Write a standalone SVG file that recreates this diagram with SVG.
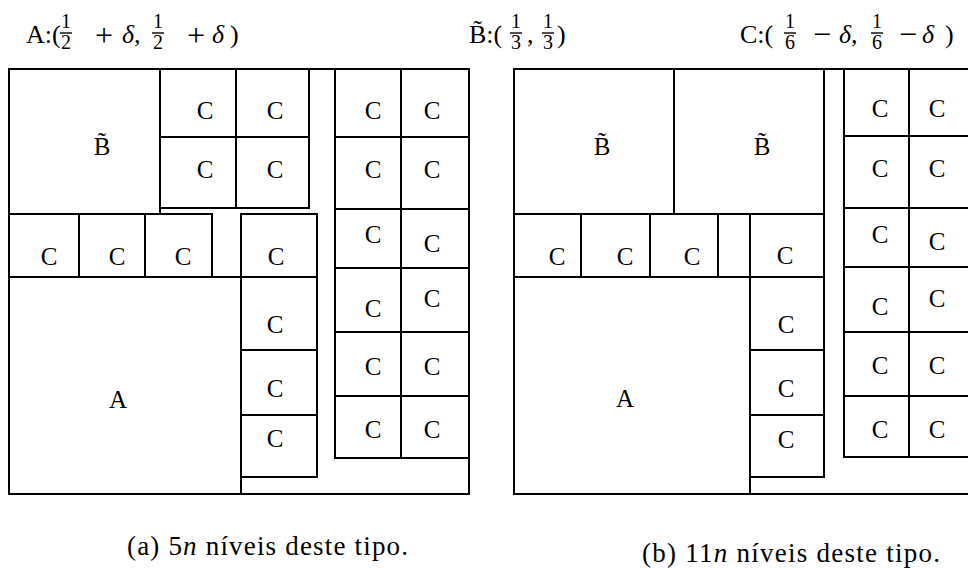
<svg xmlns="http://www.w3.org/2000/svg" width="968" height="568" viewBox="0 0 968 568">
<style>
.b{fill:none;stroke:#000;stroke-width:2}
.l{font-family:"Liberation Serif","DejaVu Serif",serif;font-size:25px;text-anchor:middle;fill:#000}
.t{font-family:"Liberation Serif","DejaVu Serif",serif;font-size:26px;fill:#000}
.o{font-family:"Liberation Serif","DejaVu Serif",serif;font-size:32px;text-anchor:middle;fill:#000}
.f{font-family:"Liberation Serif","DejaVu Serif",serif;font-size:20px;text-anchor:middle;fill:#000}
.c{font-family:"Liberation Serif","DejaVu Serif",serif;font-size:27px;fill:#000}
.bar{stroke:#000;stroke-width:1.4}
</style>
<rect width="968" height="568" fill="#fff"/>

<g id="legend">
  <text class="t" x="26" y="43">A:(</text>
  <text class="f" x="66" y="28">1</text><line class="bar" x1="60" y1="33" x2="72" y2="33"/><text class="f" x="66" y="49">2</text>
  <text class="o" x="104" y="46">+</text>
  <text class="t" x="122" y="43" font-style="italic">δ,</text>
  <text class="f" x="158" y="28">1</text><line class="bar" x1="152" y1="33" x2="164" y2="33"/><text class="f" x="158" y="49">2</text>
  <text class="o" x="196" y="46">+</text>
  <text class="t" x="212" y="43" font-style="italic">δ</text>
  <text class="t" x="230" y="43">)</text>

  <text class="t" x="469" y="43">B̃:(</text>
  <text class="f" x="516" y="28">1</text><line class="bar" x1="510" y1="33" x2="522" y2="33"/><text class="f" x="516" y="49">3</text>
  <text class="t" x="527" y="43">,</text>
  <text class="f" x="548" y="28">1</text><line class="bar" x1="542" y1="33" x2="554" y2="33"/><text class="f" x="548" y="49">3</text>
  <text class="t" x="557" y="43">)</text>

  <text class="t" x="740" y="43">C:(</text>
  <text class="f" x="790" y="28">1</text><line class="bar" x1="784" y1="33" x2="796" y2="33"/><text class="f" x="790" y="49">6</text>
  <text class="o" x="822" y="45">−</text>
  <text class="t" x="839" y="43" font-style="italic">δ,</text>
  <text class="f" x="877" y="28">1</text><line class="bar" x1="871" y1="33" x2="883" y2="33"/><text class="f" x="877" y="49">6</text>
  <text class="o" x="908" y="45">−</text>
  <text class="t" x="922" y="43" font-style="italic">δ</text>
  <text class="t" x="945" y="43">)</text>
</g>

<!-- Left diagram (a) -->
<g id="a-frame"><rect class="b" x="9" y="69" width="460" height="425"/></g>
<g id="a-B"><rect class="b" x="9" y="69" width="151" height="145"/><text class="l" x="102" y="155">B̃</text></g>
<g id="a-C1"><rect class="b" x="160" y="69" width="76" height="68"/><text class="l" x="205" y="119">C</text></g>
<g id="a-C2"><rect class="b" x="236" y="69" width="73" height="68"/><text class="l" x="275" y="119">C</text></g>
<g id="a-C3"><rect class="b" x="160" y="137" width="76" height="71"/><text class="l" x="205" y="178">C</text></g>
<g id="a-C4"><rect class="b" x="236" y="137" width="73" height="71"/><text class="l" x="275" y="178">C</text></g>
<g id="a-C5"><rect class="b" x="9" y="214" width="70" height="63"/><text class="l" x="49" y="265">C</text></g>
<g id="a-C6"><rect class="b" x="79" y="214" width="66" height="63"/><text class="l" x="117" y="265">C</text></g>
<g id="a-C7"><rect class="b" x="145" y="214" width="67" height="63"/><text class="l" x="183" y="265">C</text></g>
<g id="a-A"><rect class="b" x="9" y="277" width="232" height="217"/><line class="b" x1="212" y1="277" x2="241" y2="277"/><text class="l" x="118" y="408">A</text></g>
<g id="a-C8"><rect class="b" x="241" y="214" width="76" height="63"/><text class="l" x="276" y="265">C</text></g>
<g id="a-C9"><rect class="b" x="241" y="277" width="76" height="73"/><text class="l" x="275" y="333">C</text></g>
<g id="a-C10"><rect class="b" x="241" y="350" width="76" height="65"/><text class="l" x="275" y="397">C</text></g>
<g id="a-C11"><rect class="b" x="241" y="415" width="76" height="62"/><text class="l" x="275" y="447">C</text></g>
<g id="a-R1"><rect class="b" x="335" y="69" width="66" height="68"/><text class="l" x="373" y="119">C</text></g>
<g id="a-R2"><rect class="b" x="401" y="69" width="68" height="68"/><text class="l" x="432" y="119">C</text></g>
<g id="a-R3"><rect class="b" x="335" y="137" width="66" height="72"/><text class="l" x="373" y="178">C</text></g>
<g id="a-R4"><rect class="b" x="401" y="137" width="68" height="72"/><text class="l" x="432" y="178">C</text></g>
<g id="a-R5"><rect class="b" x="335" y="209" width="66" height="59"/><text class="l" x="373" y="243">C</text></g>
<g id="a-R6"><rect class="b" x="401" y="209" width="68" height="59"/><text class="l" x="432" y="252">C</text></g>
<g id="a-R7"><rect class="b" x="335" y="268" width="66" height="64"/><text class="l" x="373" y="317">C</text></g>
<g id="a-R8"><rect class="b" x="401" y="268" width="68" height="64"/><text class="l" x="432" y="307">C</text></g>
<g id="a-R9"><rect class="b" x="335" y="332" width="66" height="64"/><text class="l" x="373" y="375">C</text></g>
<g id="a-R10"><rect class="b" x="401" y="332" width="68" height="64"/><text class="l" x="432" y="375">C</text></g>
<g id="a-R11"><rect class="b" x="335" y="396" width="66" height="62"/><text class="l" x="373" y="438">C</text></g>
<g id="a-R12"><rect class="b" x="401" y="396" width="68" height="62"/><text class="l" x="432" y="438">C</text></g>

<!-- Right diagram (b) -->
<g id="b-frame"><rect class="b" x="514" y="69" width="470" height="425"/></g>
<g id="b-B1"><rect class="b" x="514" y="69" width="160" height="145"/><text class="l" x="602" y="155">B̃</text></g>
<g id="b-B2"><rect class="b" x="674" y="69" width="150" height="145"/><text class="l" x="762" y="155">B̃</text></g>
<g id="b-C1"><rect class="b" x="514" y="214" width="67" height="63"/><text class="l" x="557" y="265">C</text></g>
<g id="b-C2"><rect class="b" x="581" y="214" width="69" height="63"/><text class="l" x="625" y="265">C</text></g>
<g id="b-C3"><rect class="b" x="650" y="214" width="68" height="63"/><text class="l" x="692" y="265">C</text></g>
<g id="b-gap"><rect class="b" x="718" y="214" width="32" height="63"/></g>
<g id="b-C4"><rect class="b" x="750" y="214" width="74" height="63"/><text class="l" x="785" y="264">C</text></g>
<g id="b-A"><rect class="b" x="514" y="277" width="236" height="217"/><text class="l" x="625" y="407">A</text></g>
<g id="b-C5"><rect class="b" x="750" y="277" width="74" height="73"/><text class="l" x="786" y="333">C</text></g>
<g id="b-C6"><rect class="b" x="750" y="350" width="74" height="65"/><text class="l" x="786" y="397">C</text></g>
<g id="b-C7"><rect class="b" x="750" y="415" width="74" height="62"/><text class="l" x="786" y="448">C</text></g>
<g id="b-R1"><rect class="b" x="844" y="69" width="65" height="67"/><text class="l" x="880" y="117">C</text></g>
<g id="b-R2"><rect class="b" x="909" y="69" width="75" height="67"/><text class="l" x="937" y="117">C</text></g>
<g id="b-R3"><rect class="b" x="844" y="136" width="65" height="72"/><text class="l" x="880" y="177">C</text></g>
<g id="b-R4"><rect class="b" x="909" y="136" width="75" height="72"/><text class="l" x="937" y="177">C</text></g>
<g id="b-R5"><rect class="b" x="844" y="208" width="65" height="59"/><text class="l" x="880" y="243">C</text></g>
<g id="b-R6"><rect class="b" x="909" y="208" width="75" height="59"/><text class="l" x="937" y="250">C</text></g>
<g id="b-R7"><rect class="b" x="844" y="267" width="65" height="65"/><text class="l" x="880" y="315">C</text></g>
<g id="b-R8"><rect class="b" x="909" y="267" width="75" height="65"/><text class="l" x="937" y="307">C</text></g>
<g id="b-R9"><rect class="b" x="844" y="332" width="65" height="64"/><text class="l" x="880" y="374">C</text></g>
<g id="b-R10"><rect class="b" x="909" y="332" width="75" height="64"/><text class="l" x="937" y="374">C</text></g>
<g id="b-R11"><rect class="b" x="844" y="396" width="65" height="61"/><text class="l" x="880" y="438">C</text></g>
<g id="b-R12"><rect class="b" x="909" y="396" width="75" height="61"/><text class="l" x="937" y="438">C</text></g>

<g id="connectors"></g>

<g id="captions">
  <text class="c" x="127" y="555" textLength="281" lengthAdjust="spacing">(a) 5<tspan font-style="italic">n</tspan> níveis deste tipo.</text>
  <text class="c" x="642" y="562" textLength="298" lengthAdjust="spacing">(b) 11<tspan font-style="italic">n</tspan> níveis deste tipo.</text>
</g>
</svg>
